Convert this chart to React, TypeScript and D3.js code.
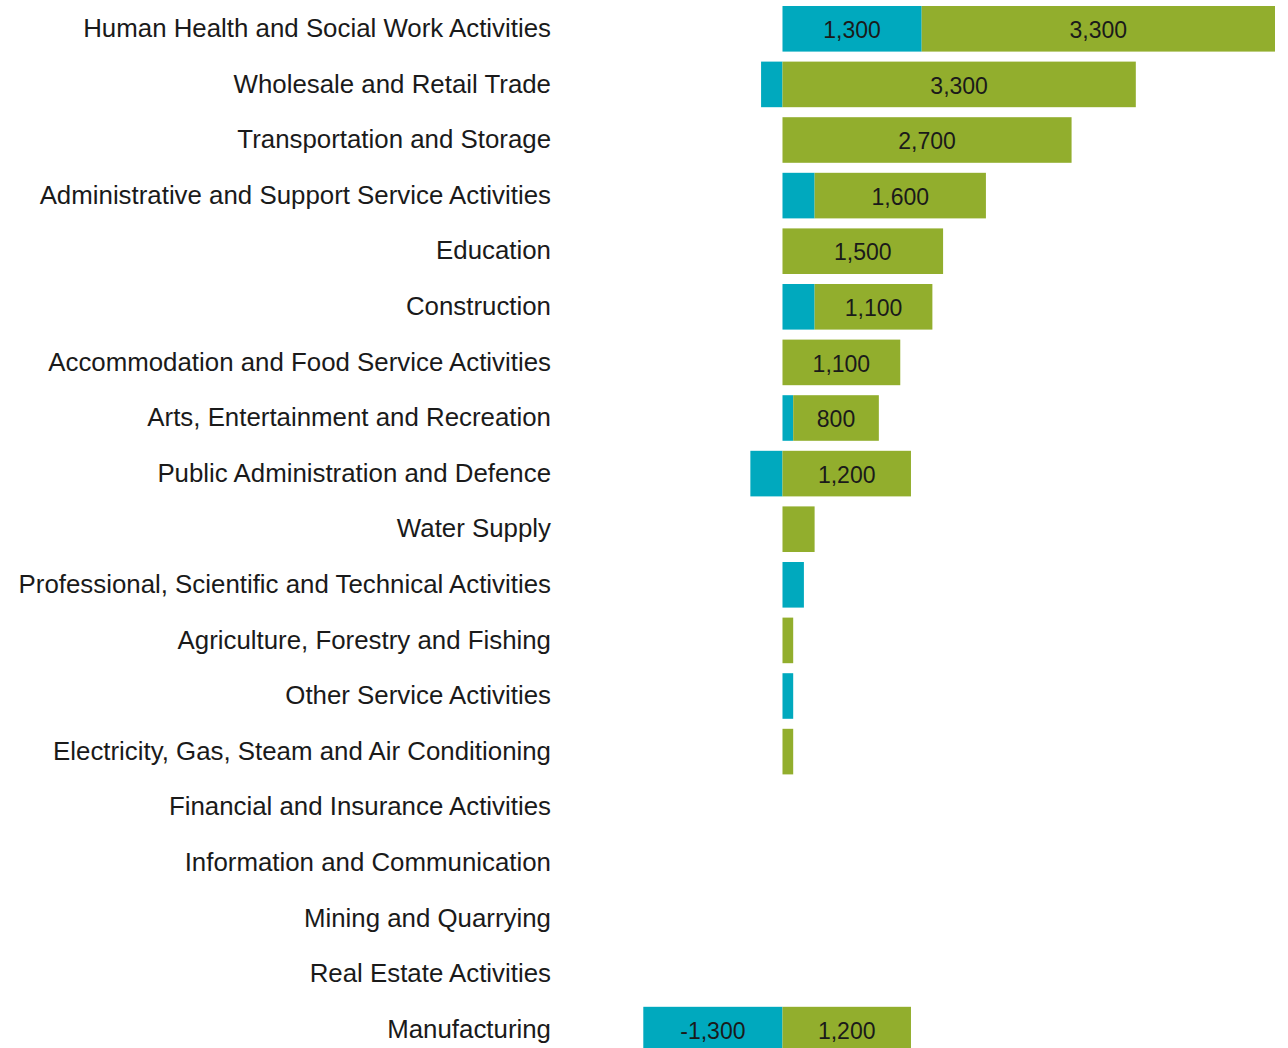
import React from "react";
import * as d3 from "d3";

const categories = [
  "Human Health and Social Work Activities",
  "Wholesale and Retail Trade",
  "Transportation and Storage",
  "Administrative and Support Service Activities",
  "Education",
  "Construction",
  "Accommodation and Food Service Activities",
  "Arts, Entertainment and Recreation",
  "Public Administration and Defence",
  "Water Supply",
  "Professional, Scientific and Technical Activities",
  "Agriculture, Forestry and Fishing",
  "Other Service Activities",
  "Electricity, Gas, Steam and Air Conditioning",
  "Financial and Insurance Activities",
  "Information and Communication",
  "Mining and Quarrying",
  "Real Estate Activities",
  "Manufacturing",
];

const blueValues = [1300, -200, 0, 300, 0, 300, 0, 100, -300, 0, 200, 0, 100, 0, 0, 0, 0, 0, -1300];
const greenValues = [3300, 3300, 2700, 1600, 1500, 1100, 1100, 800, 1200, 300, 0, 100, 0, 100, 0, 0, 0, 0, 1200];

const BLUE = "#00A9BE";
const GREEN = "#92AE2D";
const FONT = "'Liberation Sans', Arial, sans-serif";

export default function App() {
  const width = 1288;
  const height = 1048;

  const x = d3.scaleLinear().domain([-1300, 4600]).range([643.3, 1275]);
  const y = d3
    .scaleBand<string>()
    .domain(categories)
    .range([1, 1057.4])
    .paddingInner(0.18)
    .paddingOuter(0.09);

  const fmt = (v: number) => d3.format(",")(v).replace("\u2212", "-");
  const bw = y.bandwidth();

  return (
    <svg
      width={width}
      height={height}
      style={{ position: "absolute", left: 0, top: 0, background: "#fff" }}
    >
      {categories.map((c, i) => {
        const b = blueValues[i];
        const g = greenValues[i];
        const yy = y(c)!;
        const cy = yy + bw / 2;
        const gStart = Math.max(b, 0);
        const segs: { v: number; x0: number; x1: number; color: string }[] = [];
        if (b !== 0) {
          segs.push({ v: b, x0: Math.min(0, b), x1: Math.max(0, b), color: BLUE });
        }
        if (g !== 0) {
          segs.push({ v: g, x0: gStart, x1: gStart + g, color: GREEN });
        }
        return (
          <g key={c}>
            <text
              x={551}
              y={cy}
              dy="0.32em"
              textAnchor="end"
              fontFamily={FONT}
              fontSize={25.85}
              fill="#1a1a1a"
            >
              {c}
            </text>
            {segs.map((s, j) => (
              <rect
                key={j}
                x={x(s.x0)}
                y={yy}
                width={x(s.x1) - x(s.x0)}
                height={bw}
                fill={s.color}
              />
            ))}
            {segs
              .filter((s) => Math.abs(s.v) >= 500)
              .map((s, j) => (
                <text
                  key={"t" + j}
                  x={(x(s.x0) + x(s.x1)) / 2}
                  y={cy}
                  dy="0.4em"
                  textAnchor="middle"
                  fontFamily={FONT}
                  fontSize={23}
                  fill="#1a1a1a"
                >
                  {fmt(s.v)}
                </text>
              ))}
          </g>
        );
      })}
    </svg>
  );
}
